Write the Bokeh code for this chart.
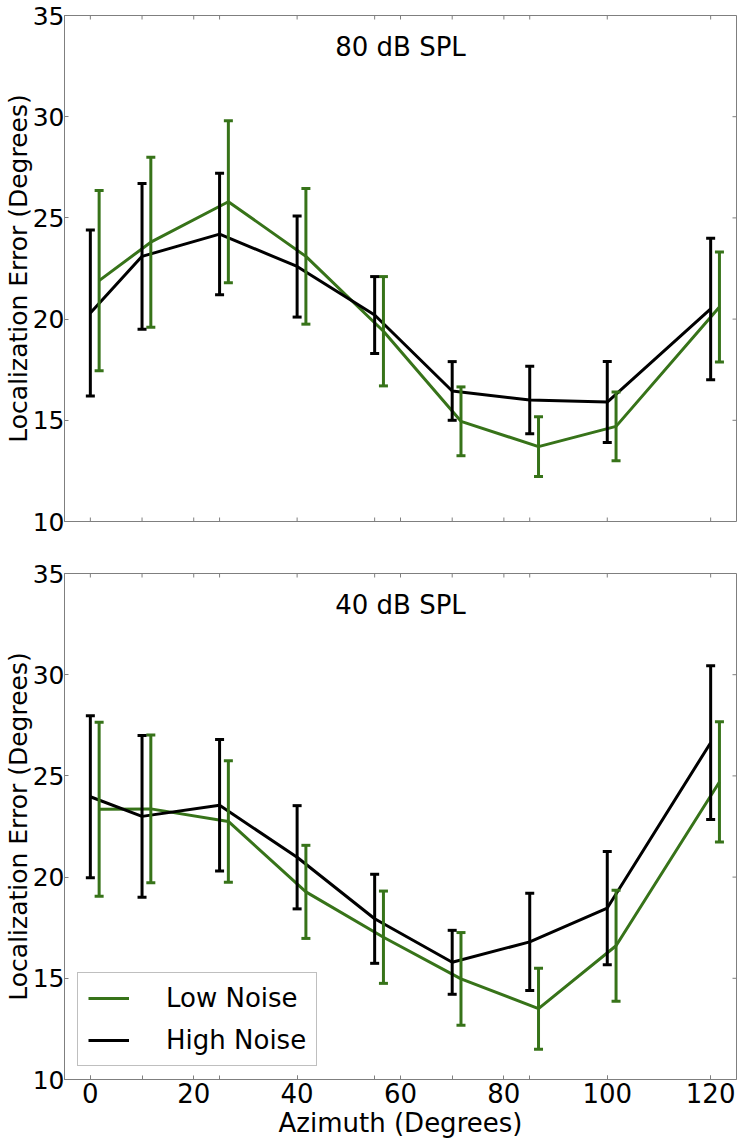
import math
from bokeh.plotting import figure
from bokeh.models import Whisker, TeeHead, FixedTicker, Label, ColumnDataSource, Range1d
from bokeh.layouts import column
from bokeh.embed import file_html
from bokeh.resources import INLINE

# ---------------- data ----------------
azimuth_high = [0, 10, 25, 40, 55, 70, 85, 100, 120]
azimuth_low = [1.7, 11.7, 26.7, 41.7, 56.7, 71.7, 86.7, 101.7, 121.7]

# 80 dB SPL panel
spl80_low_mean = [21.9, 23.8, 25.8, 23.1, 19.4, 14.95, 13.7, 14.7, 20.6]
spl80_low_err = [4.45, 4.2, 4.0, 3.35, 2.7, 1.7, 1.48, 1.7, 2.72]
spl80_high_mean = [20.3, 23.1, 24.2, 22.6, 20.2, 16.45, 16.0, 15.9, 20.5]
spl80_high_err = [4.1, 3.6, 3.0, 2.5, 1.9, 1.45, 1.67, 2.0, 3.5]

# 40 dB SPL panel
spl40_low_mean = [23.35, 23.37, 22.75, 19.27, 17.03, 14.97, 13.5, 16.61, 24.7]
spl40_low_err = [4.3, 3.65, 3.0, 2.3, 2.28, 2.29, 2.0, 2.74, 2.97]
spl40_high_mean = [23.97, 23.0, 23.55, 20.98, 17.94, 15.79, 16.8, 18.47, 26.64]
spl40_high_err = [4.0, 4.0, 3.25, 2.55, 2.2, 1.58, 2.4, 2.8, 3.8]

x_bounds = [-5, 125]
y_bounds = [10, 35]
x_major_ticks = [0, 20, 40, 60, 80, 100, 120]
x_minor_ticks = [0, 10, 25, 40, 55, 70, 85, 100, 120]
y_ticks = [10, 15, 20, 25, 30, 35]

series_names = ["Low Noise", "High Noise"]
panel_titles = ["80 dB SPL", "40 dB SPL"]
x_label = "Azimuth (Degrees)"
y_label = "Localization Error (Degrees)"

# ---------------- style ----------------
FONT = "DejaVu Sans"
GREEN = "#377319"
BLACK = "#000000"
SPINE = "#7f7f7f"
TICK = 4


def style_axis(ax, label_size, axis_label_size):
    ax.axis_line_color = SPINE
    ax.axis_line_width = 1
    ax.major_tick_line_color = SPINE
    ax.minor_tick_line_color = SPINE
    ax.major_tick_in = TICK
    ax.major_tick_out = 0
    ax.minor_tick_in = TICK
    ax.minor_tick_out = 0
    ax.major_label_text_font = FONT
    ax.major_label_text_font_size = label_size
    ax.major_label_text_color = "#000000"
    ax.axis_label_text_font = FONT
    ax.axis_label_text_font_size = axis_label_size
    ax.axis_label_text_font_style = "normal"
    ax.axis_label_text_color = "#000000"


def inner_ticks(p, xs, ys, angle):
    # short inward tick marks on the unlabeled sides of the frame
    p.ray(x=xs, y=ys, length=TICK, length_units="screen", angle=angle,
          line_color=SPINE, line_width=1)


def make_panel(title, low_mean, low_err, high_mean, high_err,
               height, top, bottom, show_xlabels, show_legend):
    p = figure(width=739, height=height,
               x_range=Range1d(*x_bounds), y_range=Range1d(*y_bounds),
               output_backend="svg", toolbar_location=None,
               min_border_left=64, min_border_right=3,
               min_border_top=top, min_border_bottom=bottom)
    p.background_fill_color = "white"
    p.border_fill_color = "white"
    p.outline_line_color = SPINE
    p.outline_line_width = 1
    p.xgrid.visible = False
    p.ygrid.visible = False

    xa = p.xaxis[0]
    xa.ticker = FixedTicker(ticks=x_major_ticks, minor_ticks=x_minor_ticks)
    style_axis(xa, "26px", "26px")
    xa.major_label_standoff = 3
    xa.axis_label_standoff = 2
    if show_xlabels:
        xa.axis_label = x_label
    else:
        xa.visible = False

    ya = p.yaxis[0]
    ya.ticker = FixedTicker(ticks=y_ticks, minor_ticks=[])
    style_axis(ya, "25px", "25px")
    ya.major_label_standoff = 0
    ya.axis_label_standoff = -3
    ya.axis_label = y_label

    all_x_ticks = sorted(set(x_major_ticks) | set(x_minor_ticks))
    inner_ticks(p, all_x_ticks, [y_bounds[1]] * len(all_x_ticks), -math.pi / 2)
    inner_ticks(p, [x_bounds[1]] * len(y_ticks), y_ticks, math.pi)
    if not show_xlabels:
        inner_ticks(p, all_x_ticks, [y_bounds[0]] * len(all_x_ticks), math.pi / 2)

    series = [
        (azimuth_low, low_mean, low_err, GREEN, series_names[0]),
        (azimuth_high, high_mean, high_err, BLACK, series_names[1]),
    ]
    for xs, mean, err, color, name in series:
        src = ColumnDataSource(dict(
            base=xs,
            lower=[m - e for m, e in zip(mean, err)],
            upper=[m + e for m, e in zip(mean, err)],
        ))
        w = Whisker(source=src, base="base", lower="lower", upper="upper",
                    line_color=color, line_width=3,
                    upper_head=TeeHead(size=9, line_color=color, line_width=3),
                    lower_head=TeeHead(size=9, line_color=color, line_width=3))
        w.level = "glyph"
        p.add_layout(w)
        kw = dict(legend_label=name) if show_legend else {}
        p.line(xs, mean, line_color=color, line_width=3, **kw)

    p.add_layout(Label(x=60, y=33.45, text=title, text_align="center",
                       text_baseline="alphabetic", text_font=FONT,
                       text_font_size="26px", text_color="#000000"))

    if show_legend:
        lg = p.legend[0]
        lg.location = (13, 13)
        lg.border_line_color = SPINE
        lg.border_line_width = 1
        lg.background_fill_color = "white"
        lg.background_fill_alpha = 1
        lg.label_text_font = FONT
        lg.label_text_font_size = "26px"
        lg.label_text_color = "#000000"
        lg.glyph_width = 41
        lg.glyph_height = 28
        lg.label_height = 28
        lg.label_standoff = 37
        lg.padding = 10
        lg.spacing = 12
        lg.margin = 0
    return p


p1 = make_panel(panel_titles[0], spl80_low_mean, spl80_low_err,
                spl80_high_mean, spl80_high_err,
                height=547, top=15, bottom=26, show_xlabels=False, show_legend=False)
p2 = make_panel(panel_titles[1], spl40_low_mean, spl40_low_err,
                spl40_high_mean, spl40_high_err,
                height=593, top=26, bottom=61, show_xlabels=True, show_legend=True)

layout = column(p1, p2, spacing=0)
open("out.html", "w").write(file_html(layout, INLINE))
